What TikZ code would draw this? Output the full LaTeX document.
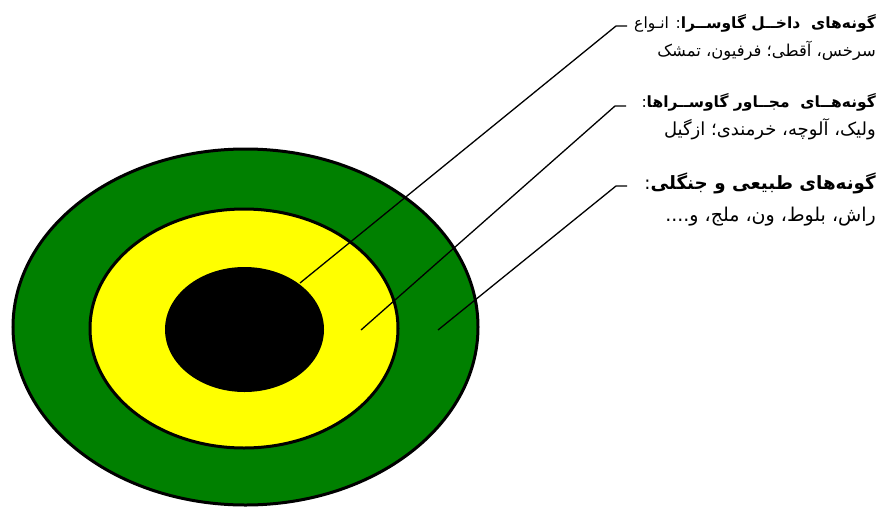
\documentclass[tikz,border=0pt]{standalone}
\usepackage{fontspec}
\newfontfamily\fa[Script=Arabic]{DejaVu Sans}
\TeXXeTstate=1
\definecolor{ringgreen}{HTML}{008000}
\definecolor{ringyellow}{HTML}{FFFF00}
\tikzset{
  ring/.style={draw=black, line width=3pt},
  leader/.style={draw=black, line width=1.3pt},
  lbl/.style={anchor=base east, inner sep=0pt, font=\fa},
}
\begin{document}
\begin{tikzpicture}[x=1pt,y=-1pt]
\useasboundingbox (0,0) rectangle (884,509);
\fill[white] (0,0) rectangle (884,509);
% rings
\draw[ring, fill=ringgreen] (245.5,327) ellipse [x radius=232.5, y radius=178];
\draw[ring, fill=ringyellow] (244,328.5) ellipse [x radius=154, y radius=119.5];
\fill[black] (244.5,329.5) ellipse [x radius=79.5, y radius=62.5];
% leader coordinates
\coordinate (s1) at (300,283);
\coordinate (k1) at (616,26);
\coordinate (h1) at (627,26);
\coordinate (s2) at (361,330);
\coordinate (k2) at (615,106);
\coordinate (h2) at (626,106);
\coordinate (s3) at (438,330);
\coordinate (k3) at (616,186);
\coordinate (h3) at (627,186);
\draw[leader] (s1) -- (k1) -- (h1);
\draw[leader] (s2) -- (k2) -- (h2);
\draw[leader] (s3) -- (k3) -- (h3);
% labels
\node[lbl, font=\fa\fontsize{15.5}{18}\selectfont] (a1) at (876,28) {\beginR{\bfseries گونه‌های\ \ داخــل گاوســرا}: انـواع\endR};
\node[lbl, font=\fa\fontsize{16.4}{19}\selectfont] (a2) at (876,56) {\beginR سرخس، آقطی؛ فرفیون، تمشک\endR};
\node[lbl, font=\fa\fontsize{15.5}{18}\selectfont] (b1) at (876,107) {\beginR{\bfseries گونه‌هــای\ \ مجــاور گاوســراها}:\endR};
\node[lbl, font=\fa\fontsize{18}{21}\selectfont] (b2) at (876,135) {\beginR ولیک، آلوچه، خرمندی؛ ازگیل\endR};
\node[lbl, font=\fa\fontsize{18.3}{22}\selectfont] (c1) at (876,189) {\beginR{\bfseries گونه‌های طبیعی و جنگلی}:\endR};
\node[lbl, font=\fa\fontsize{19}{22}\selectfont] (c2) at (876,221) {\beginR راش، بلوط، ون، ملج، و....\endR};
\end{tikzpicture}
\end{document}
